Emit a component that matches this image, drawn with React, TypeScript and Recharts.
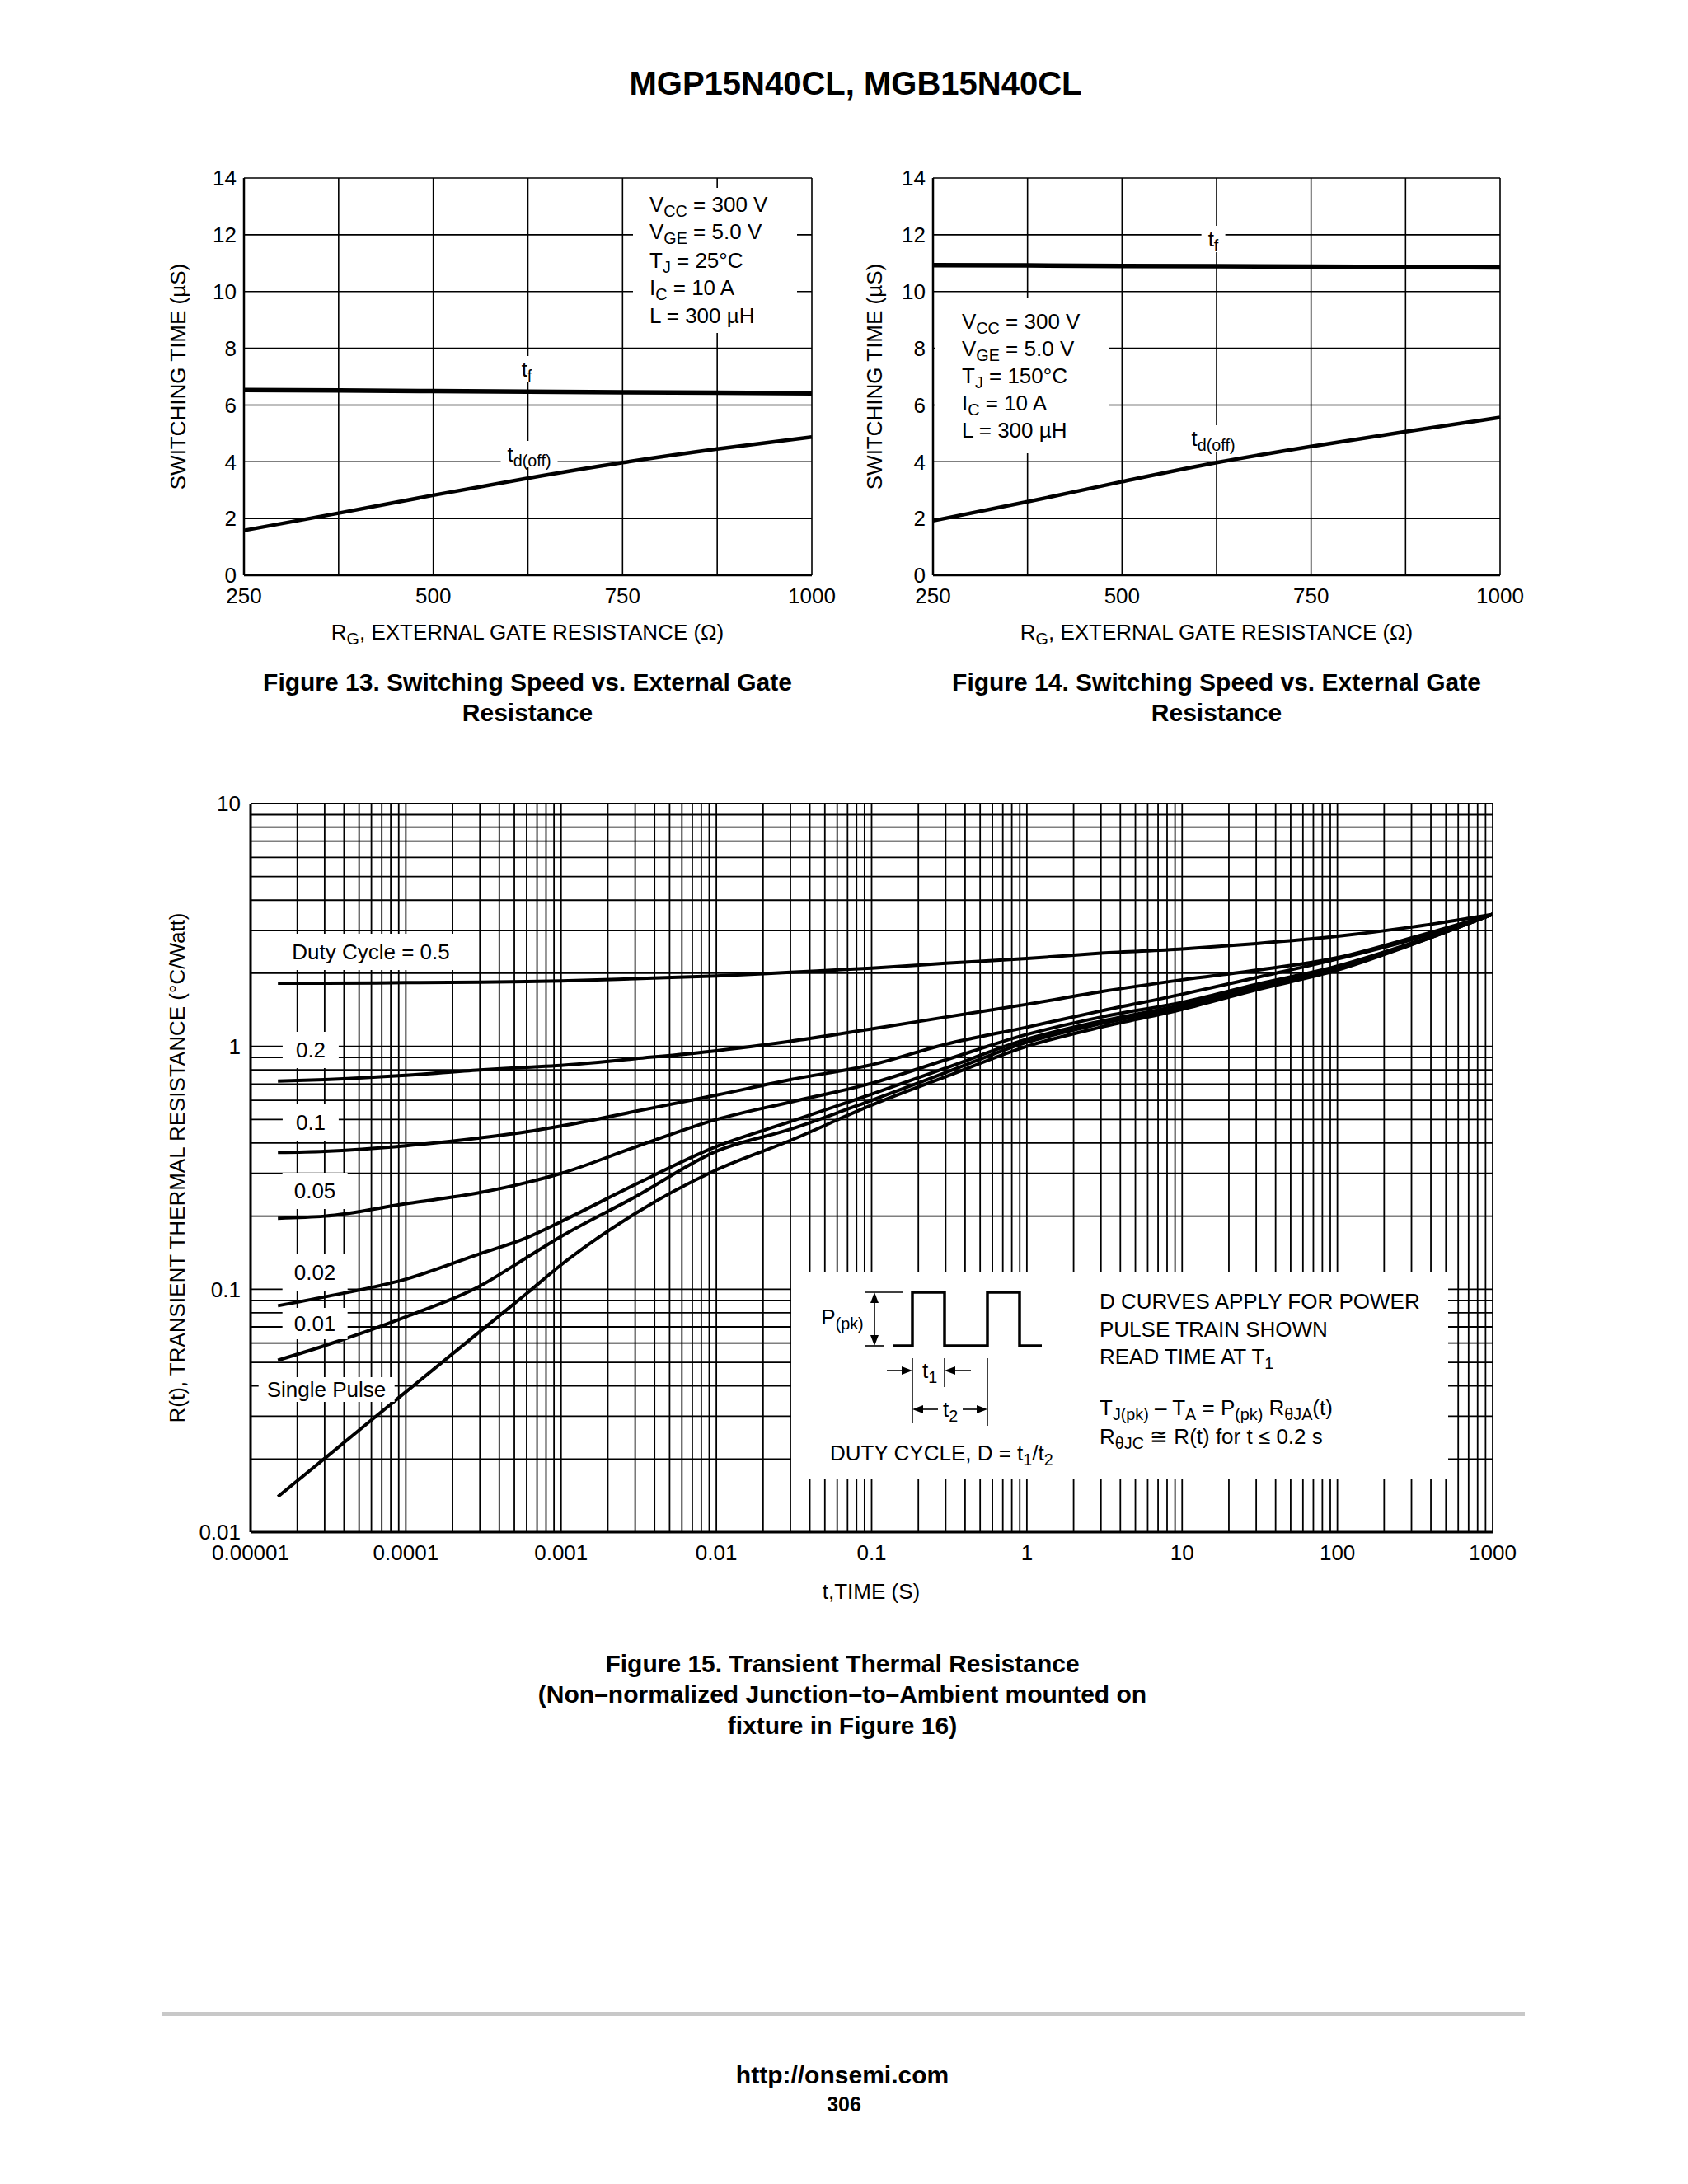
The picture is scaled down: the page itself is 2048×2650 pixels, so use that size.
import React from "react";
import { CartesianGrid, Line, LineChart, ReferenceLine, XAxis, YAxis } from "recharts";

const FONT = '"Liberation Sans", Arial, Helvetica, sans-serif';
const INK = "#000";

// Figures 13 / 14 : switching time vs. external gate resistance
const rgValues = [250, 375, 500, 625, 750, 875, 1000];
const rgTicks = [250, 375, 500, 625, 750, 875, 1000];
const rgTickText = ["250", "", "500", "", "750", "", "1000"];
const swTicks = [0, 2, 4, 6, 8, 10, 12, 14];
const tf25 = [6.53, 6.51, 6.49, 6.47, 6.45, 6.43, 6.41];
const tdoff25 = [1.58, 2.19, 2.82, 3.42, 3.97, 4.45, 4.87];
const tf150 = [10.93, 10.92, 10.9, 10.89, 10.88, 10.86, 10.85];
const tdoff150 = [1.92, 2.59, 3.3, 3.97, 4.54, 5.06, 5.56];

// Figure 15 : transient thermal resistance
const pulseTimes = [1.5e-5, 3e-5, 1e-4, 3e-4, 6e-4, 1e-3, 3e-3, 0.01, 0.03, 0.1, 0.3, 1, 3, 10, 30, 100, 300, 1000];
const duty05 = [1.82, 1.82, 1.83, 1.84, 1.85, 1.86, 1.9, 1.95, 2.02, 2.1, 2.2, 2.3, 2.42, 2.52, 2.65, 2.84, 3.1, 3.5];
const duty02 = [0.72, 0.73, 0.76, 0.8, 0.82, 0.835, 0.89, 0.96, 1.05, 1.18, 1.32, 1.49, 1.68, 1.88, 2.06, 2.32, 2.8, 3.5];
const duty01 = [0.366, 0.37, 0.39, 0.42, 0.445, 0.47, 0.54, 0.63, 0.73, 0.84, 1.02, 1.2, 1.4, 1.64, 1.92, 2.29, 2.75, 3.5];
const duty005 = [0.196, 0.2, 0.225, 0.25, 0.275, 0.3, 0.385, 0.5, 0.59, 0.705, 0.88, 1.12, 1.32, 1.52, 1.8, 2.14, 2.66, 3.5];
const duty002 = [0.0855, 0.093, 0.11, 0.14, 0.163, 0.19, 0.27, 0.387, 0.49, 0.636, 0.815, 1.07, 1.27, 1.48, 1.76, 2.12, 2.64, 3.5];
const duty001 = [0.051, 0.0586, 0.077, 0.103, 0.135, 0.165, 0.24, 0.37, 0.456, 0.6, 0.78, 1.04, 1.24, 1.45, 1.73, 2.09, 2.63, 3.5];
const singlePulse = [0.014, 0.0201, 0.0378, 0.067, 0.096, 0.126, 0.205, 0.31, 0.41, 0.573, 0.75, 1.0, 1.2, 1.42, 1.71, 2.06, 2.62, 3.5];

const timeTicks = [1e-5, 1e-4, 1e-3, 1e-2, 0.1, 1, 10, 100, 1000];
const timeTickText = ["0.00001", "0.0001", "0.001", "0.01", "0.1", "1", "10", "100", "1000"];
const rTicks = [0.01, 0.1, 1, 10];
const rTickText = ["0.01", "0.1", "1", "10"];
const gridSteps = [1, 2, 3, 4, 5, 6, 7, 8, 9];

const timeGrid = timeTicks.slice(0, -1).flatMap((d) => gridSteps.map((m) => m * d)).concat([1000]);
const rGrid = rTicks.slice(0, -1).flatMap((d) => gridSteps.map((m) => m * d)).concat([10]);

const pulseData = pulseTimes.map((t, i) => ({
  t,
  d05: duty05[i],
  d02: duty02[i],
  d01: duty01[i],
  d005: duty005[i],
  d002: duty002[i],
  d001: duty001[i],
  single: singlePulse[i],
}));

const tickStyle = { fill: INK, fontSize: 26, fontFamily: FONT };

function Sub({ children }: { children: React.ReactNode }) {
  return <span style={{ fontSize: "0.76em", position: "relative", top: "0.32em" }}>{children}</span>;
}

function Txt({
  x,
  y,
  children,
  size = 26,
  bold = false,
  anchor = "middle",
  bg,
  padX = 0,
  padY = 0,
  rotate = false,
}: {
  x: number;
  y: number;
  children: React.ReactNode;
  size?: number;
  bold?: boolean;
  anchor?: "middle" | "start";
  bg?: string;
  padX?: number;
  padY?: number;
  rotate?: boolean;
}) {
  const tx = anchor === "middle" ? "-50%" : "0";
  return (
    <div
      style={{
        position: "absolute",
        left: x,
        top: y,
        transform: `translate(${tx}, -50%)${rotate ? " rotate(-90deg)" : ""}`,
        fontSize: size,
        fontWeight: bold ? 700 : 400,
        lineHeight: 1,
        whiteSpace: "nowrap",
        background: bg,
        padding: `${padY}px ${padX}px`,
        color: INK,
      }}
    >
      {children}
    </div>
  );
}

function Box({ x, y, w, h }: { x: number; y: number; w: number; h: number }) {
  return <div style={{ position: "absolute", left: x, top: y, width: w, height: h, background: "#fff" }} />;
}

function SwitchingChart({ left, width, tf, td }: { left: number; width: number; tf: number[]; td: number[] }) {
  const data = rgValues.map((rg, i) => ({ rg, tf: tf[i], td: td[i] }));
  return (
    <div style={{ position: "absolute", left, top: 196 }}>
      <LineChart width={width} height={562} data={data} margin={{ top: 20, right: 40, bottom: 0, left: 0 }}>
        <CartesianGrid stroke={INK} strokeWidth={1.6} />
        <XAxis
          dataKey="rg"
          type="number"
          domain={[250, 1000]}
          ticks={rgTicks}
          interval={0}
          tickFormatter={(v) => rgTickText[rgTicks.indexOf(Number(v))] ?? ""}
          height={60}
          axisLine={{ stroke: INK, strokeWidth: 2.5 }}
          tickLine={false}
          tickMargin={10}
          tick={tickStyle}
        />
        <YAxis
          type="number"
          domain={[0, 14]}
          ticks={swTicks}
          interval={0}
          width={70}
          axisLine={{ stroke: INK, strokeWidth: 2.5 }}
          tickLine={false}
          tickMargin={3}
          tick={tickStyle}
        />
        <Line dataKey="tf" type="linear" stroke={INK} strokeWidth={5.5} dot={false} isAnimationActive={false} />
        <Line dataKey="td" type="monotone" stroke={INK} strokeWidth={4.5} dot={false} isAnimationActive={false} />
      </LineChart>
    </div>
  );
}

const pulseKeys = ["d05", "d02", "d01", "d005", "d002", "d001", "single"];

function ThermalChart() {
  return (
    <div style={{ position: "absolute", left: 224, top: 955 }}>
      <LineChart width={1627} height={964} data={pulseData} margin={{ top: 20, right: 40, bottom: 0, left: 0 }}>
        {timeGrid.map((v) => (
          <ReferenceLine key={`x${v}`} x={v} stroke={INK} strokeWidth={1.8} ifOverflow="visible" />
        ))}
        {rGrid.map((v) => (
          <ReferenceLine key={`y${v}`} y={v} stroke={INK} strokeWidth={1.8} ifOverflow="visible" />
        ))}
        <XAxis
          dataKey="t"
          type="number"
          scale="log"
          domain={[1e-5, 1000]}
          allowDataOverflow
          ticks={timeTicks}
          interval={0}
          tickFormatter={(v) => timeTickText[timeTicks.findIndex((d) => Math.abs(d - Number(v)) < d * 1e-6)] ?? ""}
          height={60}
          axisLine={{ stroke: INK, strokeWidth: 3 }}
          tickLine={false}
          tickMargin={10}
          tick={tickStyle}
        />
        <YAxis
          type="number"
          scale="log"
          domain={[0.01, 10]}
          allowDataOverflow
          ticks={rTicks}
          interval={0}
          tickFormatter={(v) => rTickText[rTicks.findIndex((d) => Math.abs(d - Number(v)) < d * 1e-6)] ?? ""}
          width={80}
          axisLine={{ stroke: INK, strokeWidth: 3 }}
          tickLine={false}
          tickMargin={6}
          tick={tickStyle}
        />
        {pulseKeys.map((k) => (
          <Line key={k} dataKey={k} type="monotone" stroke={INK} strokeWidth={4} dot={false} isAnimationActive={false} />
        ))}
      </LineChart>
    </div>
  );
}

function head(x: number, y: number, dx: number, dy: number) {
  const L = 13;
  const W = 5;
  const bx = x - dx * L;
  const by = y - dy * L;
  return `${x},${y} ${bx - dy * W},${by + dx * W} ${bx + dy * W},${by - dx * W}`;
}

function PulseSketch() {
  return (
    <svg width={2048} height={2650} style={{ position: "absolute", left: 0, top: 0, pointerEvents: "none" }}>
      <g stroke={INK} fill="none">
        <path d="M1083 1633 H1107 V1568 H1146 V1633 H1198 V1568 H1237 V1633 H1264" strokeWidth={3.5} />
        <line x1={1050} y1={1568} x2={1096} y2={1568} strokeWidth={1.6} />
        <line x1={1050} y1={1633} x2={1072} y2={1633} strokeWidth={1.6} />
        <line x1={1061} y1={1580} x2={1061} y2={1621} strokeWidth={1.6} />
        <line x1={1107} y1={1648} x2={1107} y2={1727} strokeWidth={1.5} />
        <line x1={1146} y1={1648} x2={1146} y2={1683} strokeWidth={1.5} />
        <line x1={1198} y1={1648} x2={1198} y2={1730} strokeWidth={1.5} />
        <line x1={1076} y1={1663} x2={1096} y2={1663} strokeWidth={1.6} />
        <line x1={1178} y1={1663} x2={1158} y2={1663} strokeWidth={1.6} />
        <line x1={1138} y1={1710} x2={1118} y2={1710} strokeWidth={1.6} />
        <line x1={1168} y1={1710} x2={1188} y2={1710} strokeWidth={1.6} />
      </g>
      <g fill={INK}>
        <polygon points={head(1061, 1568, 0, -1)} />
        <polygon points={head(1061, 1633, 0, 1)} />
        <polygon points={head(1107, 1663, 1, 0)} />
        <polygon points={head(1146, 1663, -1, 0)} />
        <polygon points={head(1107, 1710, -1, 0)} />
        <polygon points={head(1198, 1710, 1, 0)} />
      </g>
    </svg>
  );
}

export default function App() {
  return (
    <div
      style={{
        position: "absolute",
        left: 0,
        top: 0,
        width: 2048,
        height: 2650,
        background: "#fff",
        fontFamily: FONT,
        color: INK,
      }}
    >
      <Txt x={1038} y={101} size={40} bold>
        MGP15N40CL, MGB15N40CL
      </Txt>

      {/* Figure 13 */}
      <SwitchingChart left={226} width={799} tf={tf25} td={tdoff25} />
      <Box x={768} y={228} w={199} h={176} />
      <Txt x={788} y={248} anchor="start">V<Sub>CC</Sub> = 300 V</Txt>
      <Txt x={788} y={281} anchor="start">V<Sub>GE</Sub> = 5.0 V</Txt>
      <Txt x={788} y={316} anchor="start">T<Sub>J</Sub> = 25°C</Txt>
      <Txt x={788} y={349} anchor="start">I<Sub>C</Sub> = 10 A</Txt>
      <Txt x={788} y={383} anchor="start">L = 300 µH</Txt>
      <Txt x={639} y={448} bg="#fff" padX={6} padY={3}>t<Sub>f</Sub></Txt>
      <Txt x={642} y={551} bg="#fff" padX={8} padY={3}>t<Sub>d(off)</Sub></Txt>
      <Txt x={216} y={457} rotate>SWITCHING TIME (µS)</Txt>
      <Txt x={640} y={767}>R<Sub>G</Sub>, EXTERNAL GATE RESISTANCE (Ω)</Txt>
      <Txt x={640} y={828} size={30} bold>Figure 13. Switching Speed vs. External Gate</Txt>
      <Txt x={640} y={865} size={30} bold>Resistance</Txt>

      {/* Figure 14 */}
      <SwitchingChart left={1062} width={798} tf={tf150} td={tdoff150} />
      <Box x={1134} y={361} w={212} h={189} />
      <Txt x={1167} y={390} anchor="start">V<Sub>CC</Sub> = 300 V</Txt>
      <Txt x={1167} y={423} anchor="start">V<Sub>GE</Sub> = 5.0 V</Txt>
      <Txt x={1167} y={456} anchor="start">T<Sub>J</Sub> = 150°C</Txt>
      <Txt x={1167} y={489} anchor="start">I<Sub>C</Sub> = 10 A</Txt>
      <Txt x={1167} y={522} anchor="start">L = 300 µH</Txt>
      <Txt x={1472} y={290} bg="#fff" padX={8} padY={3}>t<Sub>f</Sub></Txt>
      <Txt x={1472} y={532} bg="#fff" padX={2} padY={3}>t<Sub>d(off)</Sub></Txt>
      <Txt x={1061} y={457} rotate>SWITCHING TIME (µS)</Txt>
      <Txt x={1476} y={767}>R<Sub>G</Sub>, EXTERNAL GATE RESISTANCE (Ω)</Txt>
      <Txt x={1476} y={828} size={30} bold>Figure 14. Switching Speed vs. External Gate</Txt>
      <Txt x={1476} y={865} size={30} bold>Resistance</Txt>

      {/* Figure 15 */}
      <ThermalChart />
      <Txt x={450} y={1155} bg="#fff" padX={14} padY={9}>Duty Cycle = 0.5</Txt>
      <Txt x={377} y={1274} bg="#fff" padX={16} padY={9}>0.2</Txt>
      <Txt x={377} y={1362} bg="#fff" padX={16} padY={9}>0.1</Txt>
      <Txt x={382} y={1445} bg="#fff" padX={14} padY={9}>0.05</Txt>
      <Txt x={382} y={1544} bg="#fff" padX={14} padY={9}>0.02</Txt>
      <Txt x={382} y={1606} bg="#fff" padX={14} padY={6}>0.01</Txt>
      <Txt x={396} y={1686} bg="#fff" padX={10} padY={2}>Single Pulse</Txt>

      <Box x={960} y={1543} w={797} h={252} />
      <PulseSketch />
      <Txt x={1022} y={1598}>P<Sub>(pk)</Sub></Txt>
      <Txt x={1128} y={1663}>t<Sub>1</Sub></Txt>
      <Txt x={1153} y={1710}>t<Sub>2</Sub></Txt>
      <Txt x={1007} y={1763} anchor="start">DUTY CYCLE, D = t<Sub>1</Sub>/t<Sub>2</Sub></Txt>
      <Txt x={1334} y={1579} anchor="start">D CURVES APPLY FOR POWER</Txt>
      <Txt x={1334} y={1613} anchor="start">PULSE TRAIN SHOWN</Txt>
      <Txt x={1334} y={1646} anchor="start">READ TIME AT T<Sub>1</Sub></Txt>
      <Txt x={1334} y={1708} anchor="start">
        T<Sub>J(pk)</Sub> – T<Sub>A</Sub> = P<Sub>(pk)</Sub> R<Sub>θJA</Sub>(t)
      </Txt>
      <Txt x={1334} y={1743} anchor="start">
        R<Sub>θJC</Sub> ≅ R(t) for t ≤ 0.2 s
      </Txt>

      <Txt x={215} y={1417} rotate>R(t), TRANSIENT THERMAL RESISTANCE (°C/Watt)</Txt>
      <Txt x={1057} y={1931}>t,TIME (S)</Txt>
      <Txt x={1022} y={2019} size={30} bold>Figure 15. Transient Thermal Resistance</Txt>
      <Txt x={1022} y={2056} size={30} bold>(Non–normalized Junction–to–Ambient mounted on</Txt>
      <Txt x={1022} y={2094} size={30} bold>fixture in Figure 16)</Txt>

      {/* page footer */}
      <div style={{ position: "absolute", left: 196, top: 2441, width: 1654, height: 5, background: "#c8c8c8" }} />
      <Txt x={1022} y={2518} size={30} bold>http://onsemi.com</Txt>
      <Txt x={1024} y={2553} size={25} bold>306</Txt>
    </div>
  );
}
